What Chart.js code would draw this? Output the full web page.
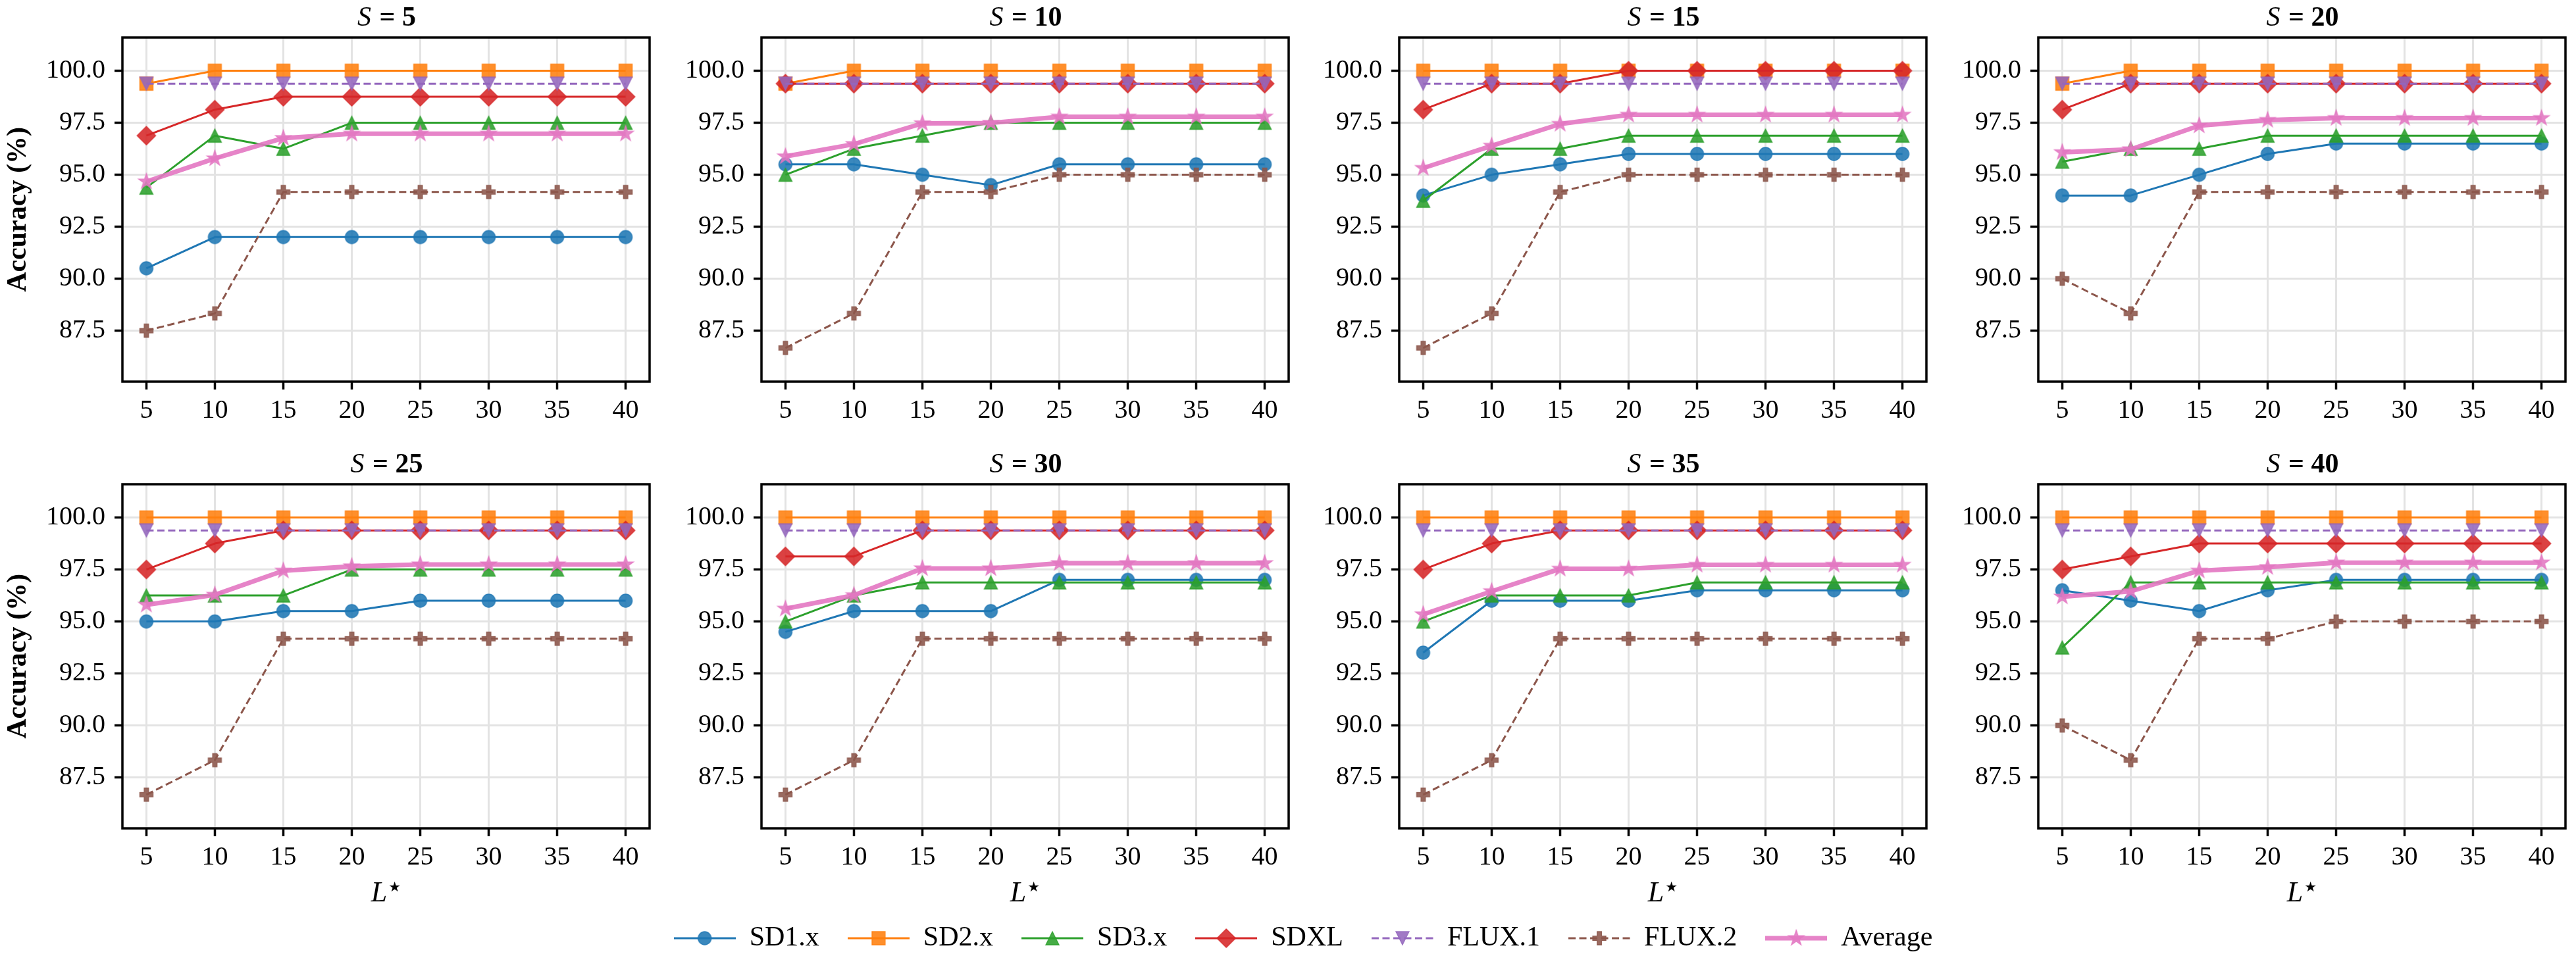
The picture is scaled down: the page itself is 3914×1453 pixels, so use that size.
<!DOCTYPE html>
<html>
<head>
<meta charset="utf-8">
<script src="https://cdn.jsdelivr.net/npm/chart.js@4.4.1/dist/chart.umd.min.js"></script>
<style>
html, body { margin: 0; padding: 0; background: #ffffff; width: 3914px; height: 1453px; overflow: hidden; }
#wrap { position: relative; width: 3914px; height: 1453px; overflow: hidden; }
canvas { position: absolute; }
</style>
</head>
<body>
<div id="wrap"></div>
<script>
// ---------------- DATA ----------------
const lValues = [5, 10, 15, 20, 25, 30, 35, 40];           // L* (x)
const xTickValues = [5, 10, 15, 20, 25, 30, 35, 40];
const yTickValues = [87.5, 90.0, 92.5, 95.0, 97.5, 100.0];
const panelS = [5, 10, 15, 20, 25, 30, 35, 40];             // one panel per S
const seriesNames = ['SD1.x', 'SD2.x', 'SD3.x', 'SDXL', 'FLUX.1', 'FLUX.2', 'Average'];

// each row = one panel (S = 5, 10, ..., 40), each column = L* value
const SD1x = [
  [90.5, 92.0, 92.0, 92.0, 92.0, 92.0, 92.0, 92.0],
  [95.5, 95.5, 95.0, 94.5, 95.5, 95.5, 95.5, 95.5],
  [94.0, 95.0, 95.5, 96.0, 96.0, 96.0, 96.0, 96.0],
  [94.0, 94.0, 95.0, 96.0, 96.5, 96.5, 96.5, 96.5],
  [95.0, 95.0, 95.5, 95.5, 96.0, 96.0, 96.0, 96.0],
  [94.5, 95.5, 95.5, 95.5, 97.0, 97.0, 97.0, 97.0],
  [93.5, 96.0, 96.0, 96.0, 96.5, 96.5, 96.5, 96.5],
  [96.5, 96.0, 95.5, 96.5, 97.0, 97.0, 97.0, 97.0]
];
const SD2x = [
  [99.38, 100, 100, 100, 100, 100, 100, 100],
  [99.38, 100, 100, 100, 100, 100, 100, 100],
  [100, 100, 100, 100, 100, 100, 100, 100],
  [99.38, 100, 100, 100, 100, 100, 100, 100],
  [100, 100, 100, 100, 100, 100, 100, 100],
  [100, 100, 100, 100, 100, 100, 100, 100],
  [100, 100, 100, 100, 100, 100, 100, 100],
  [100, 100, 100, 100, 100, 100, 100, 100]
];
const SD3x = [
  [94.38, 96.88, 96.25, 97.50, 97.50, 97.50, 97.50, 97.50],
  [95.00, 96.25, 96.88, 97.50, 97.50, 97.50, 97.50, 97.50],
  [93.75, 96.25, 96.25, 96.88, 96.88, 96.88, 96.88, 96.88],
  [95.63, 96.25, 96.25, 96.88, 96.88, 96.88, 96.88, 96.88],
  [96.25, 96.25, 96.25, 97.50, 97.50, 97.50, 97.50, 97.50],
  [95.00, 96.25, 96.88, 96.88, 96.88, 96.88, 96.88, 96.88],
  [95.00, 96.25, 96.25, 96.25, 96.88, 96.88, 96.88, 96.88],
  [93.75, 96.88, 96.88, 96.88, 96.88, 96.88, 96.88, 96.88]
];
const SDXL = [
  [96.88, 98.13, 98.75, 98.75, 98.75, 98.75, 98.75, 98.75],
  [99.38, 99.38, 99.38, 99.38, 99.38, 99.38, 99.38, 99.38],
  [98.13, 99.38, 99.38, 100, 100, 100, 100, 100],
  [98.13, 99.38, 99.38, 99.38, 99.38, 99.38, 99.38, 99.38],
  [97.50, 98.75, 99.38, 99.38, 99.38, 99.38, 99.38, 99.38],
  [98.13, 98.13, 99.38, 99.38, 99.38, 99.38, 99.38, 99.38],
  [97.50, 98.75, 99.38, 99.38, 99.38, 99.38, 99.38, 99.38],
  [97.50, 98.13, 98.75, 98.75, 98.75, 98.75, 98.75, 98.75]
];
const FLUX1 = [
  [99.38, 99.38, 99.38, 99.38, 99.38, 99.38, 99.38, 99.38],
  [99.38, 99.38, 99.38, 99.38, 99.38, 99.38, 99.38, 99.38],
  [99.38, 99.38, 99.38, 99.38, 99.38, 99.38, 99.38, 99.38],
  [99.38, 99.38, 99.38, 99.38, 99.38, 99.38, 99.38, 99.38],
  [99.38, 99.38, 99.38, 99.38, 99.38, 99.38, 99.38, 99.38],
  [99.38, 99.38, 99.38, 99.38, 99.38, 99.38, 99.38, 99.38],
  [99.38, 99.38, 99.38, 99.38, 99.38, 99.38, 99.38, 99.38],
  [99.38, 99.38, 99.38, 99.38, 99.38, 99.38, 99.38, 99.38]
];
const FLUX2 = [
  [87.50, 88.33, 94.17, 94.17, 94.17, 94.17, 94.17, 94.17],
  [86.67, 88.33, 94.17, 94.17, 95.00, 95.00, 95.00, 95.00],
  [86.67, 88.33, 94.17, 95.00, 95.00, 95.00, 95.00, 95.00],
  [90.00, 88.33, 94.17, 94.17, 94.17, 94.17, 94.17, 94.17],
  [86.67, 88.33, 94.17, 94.17, 94.17, 94.17, 94.17, 94.17],
  [86.67, 88.33, 94.17, 94.17, 94.17, 94.17, 94.17, 94.17],
  [86.67, 88.33, 94.17, 94.17, 94.17, 94.17, 94.17, 94.17],
  [90.00, 88.33, 94.17, 94.17, 95.00, 95.00, 95.00, 95.00]
];
const AVG = [
  [94.67, 95.78, 96.76, 96.97, 96.97, 96.97, 96.97, 96.97],
  [95.88, 96.47, 97.47, 97.49, 97.79, 97.79, 97.79, 97.79],
  [95.32, 96.39, 97.44, 97.88, 97.88, 97.88, 97.88, 97.88],
  [96.08, 96.22, 97.36, 97.63, 97.72, 97.72, 97.72, 97.72],
  [95.80, 96.28, 97.44, 97.65, 97.74, 97.74, 97.74, 97.74],
  [95.61, 96.26, 97.55, 97.55, 97.80, 97.80, 97.80, 97.80],
  [95.34, 96.45, 97.53, 97.53, 97.72, 97.72, 97.72, 97.72],
  [96.19, 96.45, 97.44, 97.61, 97.83, 97.83, 97.83, 97.83]
];
const seriesData = [SD1x, SD2x, SD3x, SDXL, FLUX1, FLUX2, AVG];

// ---------------- STYLE ----------------
const FONT = "'Liberation Serif', 'Times New Roman', 'DejaVu Serif', serif";
const colors = ['#1f77b4', '#ff7f0e', '#2ca02c', '#d62728', '#9467bd', '#8c564b', '#e377c2'];
const shapes = ['circle', 'square', 'triangle', 'diamond', 'triangleDown', 'plus', 'star'];
const dashes = [[], [], [], [], [11, 5.5], [11, 5.5], []];
const lineW = [3, 3, 3, 3, 3, 3, 7];
const markerSize = [20, 20, 20, 20, 20, 20, 25];

function rgba(hex, a) {
  const n = parseInt(hex.slice(1), 16);
  return `rgba(${(n >> 16) & 255},${(n >> 8) & 255},${n & 255},${a})`;
}

function markerPath(ctx, shape, ms) {
  const h = ms / 2;
  ctx.beginPath();
  if (shape === 'circle') {
    ctx.arc(0, 0, h, 0, Math.PI * 2);
  } else if (shape === 'square') {
    ctx.rect(-h, -h, ms, ms);
  } else if (shape === 'triangle') {
    ctx.moveTo(0, -h); ctx.lineTo(h, h); ctx.lineTo(-h, h); ctx.closePath();
  } else if (shape === 'triangleDown') {
    ctx.moveTo(0, h); ctx.lineTo(h, -h); ctx.lineTo(-h, -h); ctx.closePath();
  } else if (shape === 'diamond') {
    const d = ms / Math.SQRT2;
    ctx.moveTo(0, -d); ctx.lineTo(d, 0); ctx.lineTo(0, d); ctx.lineTo(-d, 0); ctx.closePath();
  } else if (shape === 'plus') {
    const p = [[-1,-3],[1,-3],[1,-1],[3,-1],[3,1],[1,1],[1,3],[-1,3],[-1,1],[-3,1],[-3,-1],[-1,-1]];
    p.forEach((q, i) => { const x = q[0] * ms / 6, y = q[1] * ms / 6; if (i) ctx.lineTo(x, y); else ctx.moveTo(x, y); });
    ctx.closePath();
  } else if (shape === 'star') {
    const r = h * 0.381966;
    for (let i = 0; i < 10; i++) {
      const a = -Math.PI / 2 + i * Math.PI / 5;
      const rr = i % 2 === 0 ? h : r;
      const x = rr * Math.cos(a), y = rr * Math.sin(a);
      if (i) ctx.lineTo(x, y); else ctx.moveTo(x, y);
    }
    ctx.closePath();
  }
}

function drawMarker(ctx, i) {
  markerPath(ctx, shapes[i], markerSize[i]);
  ctx.fillStyle = rgba(colors[i], 0.88);
  ctx.fill();
  ctx.lineWidth = 1.3;
  ctx.strokeStyle = rgba(colors[i], 0.9);
  ctx.setLineDash([]);
  ctx.stroke();
}

function makePointCanvas(i) {
  const s = Math.ceil(markerSize[i] * 1.6) + 6;
  const c = document.createElement('canvas');
  c.width = s; c.height = s;
  const ctx = c.getContext('2d');
  ctx.translate(s / 2, s / 2);
  drawMarker(ctx, i);
  return c;
}

function makeLegendCanvas(i) {
  const w = 94, h = 42;
  const c = document.createElement('canvas');
  c.width = w; c.height = h;
  const ctx = c.getContext('2d');
  ctx.strokeStyle = i === 6 ? rgba(colors[i], 0.9) : colors[i];
  ctx.lineWidth = lineW[i];
  ctx.setLineDash(dashes[i]);
  ctx.beginPath(); ctx.moveTo(0, h / 2); ctx.lineTo(w, h / 2); ctx.stroke();
  ctx.translate(w / 2, h / 2);
  drawMarker(ctx, i);
  return c;
}

const pointImgs = seriesNames.map((_, i) => makePointCanvas(i));
const legendImgs = seriesNames.map((_, i) => makeLegendCanvas(i));

// ---------------- LAYOUT ----------------
const colLeft = [186, 1157, 2126, 3097];
const rowTop = [57, 736];
const plotW = 808, plotH = 523;
const TT = 56;
const RPAD = 10;

const spinePlugin = {
  id: 'spines',
  afterDatasetsDraw(chart) {
    const a = chart.chartArea, ctx = chart.ctx;
    ctx.save();
    ctx.strokeStyle = '#000';
    ctx.lineWidth = 3.5;
    ctx.setLineDash([]);
    ctx.strokeRect(a.left, a.top, a.right - a.left, a.bottom - a.top);
    ctx.restore();
  }
};

const labelPlugin = {
  id: 'panelLabels',
  afterDraw(chart) {
    const o = chart.options.plugins.panelLabels;
    const a = chart.chartArea, ctx = chart.ctx;
    const cx = (a.left + a.right) / 2;
    ctx.save();
    ctx.fillStyle = '#000';
    ctx.textBaseline = 'alphabetic';
    ctx.textAlign = 'left';
    // title: italic S + bold " = value"
    const fS = `italic 42px ${FONT}`, fR = `bold 42px ${FONT}`;
    ctx.font = fS; const wS = ctx.measureText('S').width;
    const rest = ' = ' + o.s;
    ctx.font = fR; const wR = ctx.measureText(rest).width;
    let x0 = cx - (wS + wR) / 2;
    const yb = a.top - 18;
    ctx.font = fS; ctx.fillText('S', x0, yb);
    ctx.font = fR; ctx.fillText(rest, x0 + wS + 2, yb);
    if (o.xTitle) {
      const fL = `italic 44px ${FONT}`;
      ctx.font = fL; const wL = ctx.measureText('L').width;
      ctx.font = `21px 'DejaVu Sans', sans-serif`; const wStar = ctx.measureText('★').width;
      const xs = cx - (wL + wStar + 2) / 2;
      const yL = a.bottom + 111;
      ctx.font = fL; ctx.fillText('L', xs, yL);
      ctx.font = `21px 'DejaVu Sans', sans-serif`;
      ctx.textBaseline = 'top';
      ctx.fillText('★', xs + wL + 2, yL - 31);
    }
    ctx.restore();
  }
};

const wrap = document.getElementById('wrap');

panelS.forEach((s, p) => {
  const row = Math.floor(p / 4), col = p % 4;
  const LY = col === 0 ? 186 : 160;
  const BX = row === 1 ? 140 : 90;
  const W = LY + plotW + RPAD;
  const H = TT + plotH + BX;
  const cv = document.createElement('canvas');
  cv.width = W; cv.height = H;
  cv.style.left = (colLeft[col] - LY) + 'px';
  cv.style.top = (rowTop[row] - TT) + 'px';
  cv.style.width = W + 'px'; cv.style.height = H + 'px';
  wrap.appendChild(cv);

  const datasets = seriesData.map((arr, i) => ({
    label: seriesNames[i],
    data: lValues.map((l, k) => ({ x: l, y: arr[p][k] })),
    borderColor: i === 6 ? rgba(colors[i], 0.9) : colors[i],
    backgroundColor: colors[i],
    borderWidth: lineW[i],
    borderDash: dashes[i],
    borderJoinStyle: 'round',
    borderCapStyle: 'butt',
    pointStyle: pointImgs[i],
    pointRadius: 10,
    pointHoverRadius: 10,
    fill: false,
    tension: 0,
    order: 6 - i
  }));

  const gridOpts = { color: '#e3e3e3', lineWidth: 3, tickColor: '#000', tickLength: 12, tickWidth: 3.5, drawOnChartArea: true, drawTicks: true };

  new Chart(cv, {
    type: 'line',
    data: { datasets },
    options: {
      responsive: false,
      animation: false,
      devicePixelRatio: 1,
      events: [],
      layout: { padding: { top: TT, right: RPAD, left: 0, bottom: 0 } },
      plugins: {
        legend: { display: false },
        tooltip: { enabled: false },
        title: { display: false },
        panelLabels: { s: s, xTitle: row === 1 }
      },
      scales: {
        x: {
          type: 'linear',
          min: 3.25, max: 41.75,
          afterBuildTicks: (sc) => { sc.ticks = xTickValues.map(v => ({ value: v })); },
          afterFit: (sc) => { sc.height = BX; },
          ticks: { font: { family: FONT, size: 40 }, color: '#000', padding: 8, autoSkip: false, maxRotation: 0, minRotation: 0, callback: (v) => String(v) },
          grid: gridOpts,
          border: { display: false }
        },
        y: {
          type: 'linear',
          min: 85.05, max: 101.6,
          afterBuildTicks: (sc) => { sc.ticks = yTickValues.map(v => ({ value: v })); },
          afterFit: (sc) => { sc.width = LY; },
          ticks: { font: { family: FONT, size: 40 }, color: '#000', padding: 14, autoSkip: false, callback: (v) => Number(v).toFixed(1) },
          grid: gridOpts,
          border: { display: false },
          title: col === 0
            ? { display: true, text: 'Accuracy (%)', color: '#000', font: { family: FONT, size: 42, weight: 'bold' }, padding: { top: 3, bottom: 0 } }
            : { display: false }
        }
      }
    },
    plugins: [spinePlugin, labelPlugin]
  });
});

// ---------------- LEGEND ----------------
const LEG_PAD = 43;
const lg = document.createElement('canvas');
const LGW = 3600, LGH = 270, LGL = 180, LGT = 1426 - LEG_PAD - 21;
lg.width = LGW; lg.height = LGH;
lg.style.left = LGL + 'px'; lg.style.top = LGT + 'px';
lg.style.width = LGW + 'px'; lg.style.height = LGH + 'px';
wrap.appendChild(lg);

new Chart(lg, {
  type: 'line',
  data: { datasets: seriesNames.map((n, i) => ({ label: n, data: [], borderColor: colors[i] })) },
  options: {
    responsive: false,
    animation: false,
    devicePixelRatio: 1,
    events: [],
    layout: { padding: 0 },
    scales: { x: { display: false }, y: { display: false } },
    plugins: {
      tooltip: { enabled: false },
      legend: {
        display: true,
        position: 'top',
        align: 'center',
        labels: {
          usePointStyle: true,
          pointStyleWidth: 94,
          boxHeight: 42,
          padding: LEG_PAD,
          color: '#000',
          font: { family: FONT, size: 42 },
          generateLabels: () => seriesNames.map((n, i) => ({
            text: n,
            fillStyle: colors[i],
            strokeStyle: colors[i],
            lineWidth: 0,
            pointStyle: legendImgs[i],
            hidden: false,
            datasetIndex: i,
            fontColor: '#000'
          }))
        }
      }
    }
  }
});
</script>
</body>
</html>
